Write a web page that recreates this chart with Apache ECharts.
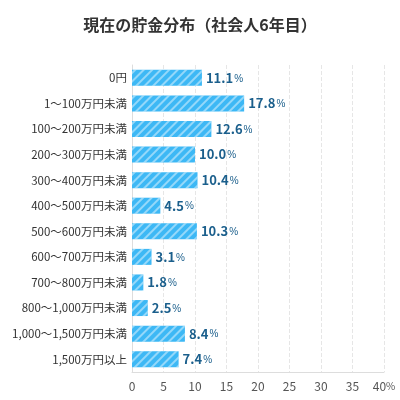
<!DOCTYPE html><html><head><meta charset="utf-8"><script src="https://cdn.jsdelivr.net/npm/echarts@6/dist/echarts.min.js"></script></head><body style="margin:0"><div id="c" style="width:400px;height:400px"></div><script>
const categories=["0円","1〜100万円未満","100〜200万円未満","200〜300万円未満","300〜400万円未満","400〜500万円未満","500〜600万円未満","600〜700万円未満","700〜800万円未満","800〜1,000万円未満","1,000〜1,500万円未満","1,500万円以上"];
const values=[11.1,17.8,12.6,10.0,10.4,4.5,10.3,3.1,1.8,2.5,8.4,7.4];
const ticks=[0,5,10,15,20,25,30,35,40];
const ch=echarts.init(document.getElementById('c'));
ch.setOption({
title:{text:"現在の貯金分布（社会人6年目）",left:'center',top:12,textStyle:{fontSize:16,fontWeight:'bold',color:'#333',fontFamily:'Noto Sans CJK JP'}},
grid:{left:132,right:16,top:65,bottom:28},
xAxis:{type:'value',min:0,max:40,interval:5,axisLine:{show:true,lineStyle:{color:'#ddd'}},axisTick:{show:false},
splitLine:{lineStyle:{type:'dashed',color:'#e6e6e6'}},
axisLabel:{color:'#555',fontSize:12,fontFamily:'Noto Sans CJK JP',formatter:v=>v===40?'{a|40}{b|%}':String(v),rich:{a:{fontSize:12,color:'#555'},b:{fontSize:10,color:'#555'}}}},
yAxis:{type:'category',inverse:true,data:categories,axisLine:{show:true,lineStyle:{color:'#ddd'}},axisTick:{show:false},
axisLabel:{color:'#333',fontSize:11.5,fontFamily:'Noto Sans CJK JP',margin:5}},
series:[{type:'bar',data:values,barWidth:16,
itemStyle:{color:'#3db8f5',decal:{symbol:'rect',dashArrayX:[1,0],dashArrayY:[2,4],rotation:-Math.PI/4,color:'rgba(255,255,255,0.45)'}},
label:{show:true,position:'right',distance:4,formatter:p=>'{v|'+p.value.toFixed(1)+'}{p|%}',
rich:{v:{fontSize:13,fontWeight:'bold',color:'#1b5f8c',fontFamily:'Noto Sans CJK JP'},p:{fontSize:10,color:'#1b5f8c',padding:[2,0,0,1]}}}}]
});
</script></body></html>
